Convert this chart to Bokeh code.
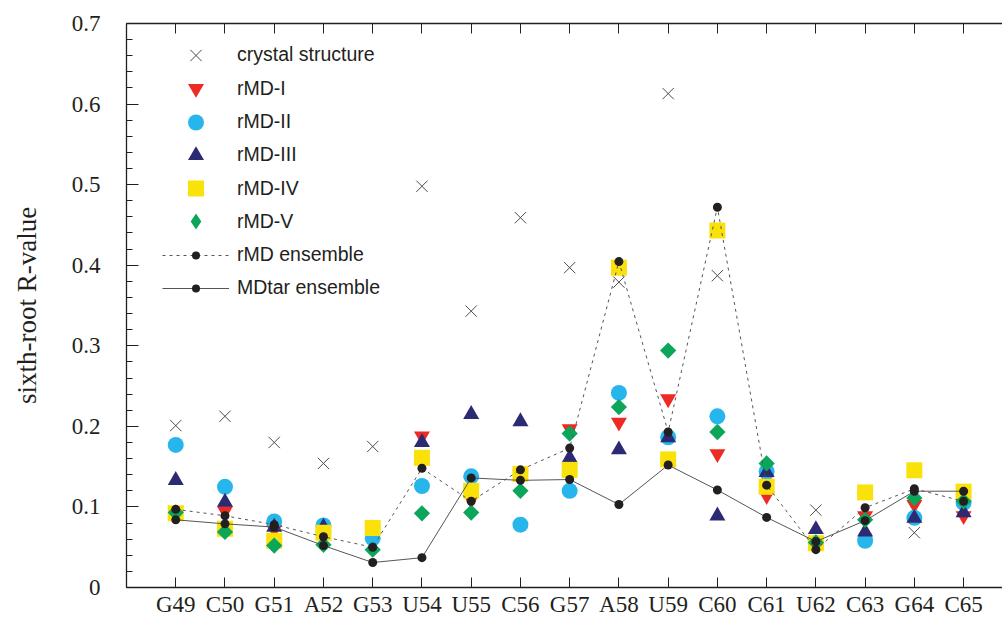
from bokeh.plotting import figure
from bokeh.models import Range1d, LinearAxis, FixedTicker, Legend, LegendItem
from bokeh.embed import file_html
from bokeh.resources import INLINE

residues = ["G49", "C50", "G51", "A52", "G53", "U54", "U55", "C56", "G57",
            "A58", "U59", "C60", "C61", "U62", "C63", "G64", "C65"]
crystal = [0.201, 0.2125, 0.180, 0.154, 0.175, 0.498, 0.343, 0.459, 0.397,
           0.379, 0.613, 0.387, 0.130, 0.096, 0.060, 0.068, 0.095]
rmd_1 = [0.095, 0.095, 0.072, 0.070, 0.070, 0.188, 0.109, 0.140, 0.197,
         0.205, 0.234, 0.166, 0.114, 0.058, 0.089, 0.103, 0.089]
rmd_2 = [0.177, 0.125, 0.082, 0.077, 0.061, 0.126, 0.138, 0.078, 0.120,
         0.2415, 0.1865, 0.2125, 0.144, 0.055, 0.058, 0.0865, 0.105]
rmd_3 = [0.133, 0.106, 0.075, 0.075, 0.073, 0.180, 0.215, 0.206, 0.161,
         0.171, 0.186, 0.089, 0.143, 0.072, 0.069, 0.086, 0.093]
rmd_4 = [0.092, 0.073, 0.058, 0.068, 0.074, 0.161, 0.120, 0.141, 0.146,
         0.397, 0.159, 0.443, 0.125, 0.055, 0.118, 0.1455, 0.119]
rmd_5 = [0.093, 0.069, 0.052, 0.053, 0.047, 0.092, 0.093, 0.120, 0.191,
         0.224, 0.294, 0.193, 0.154, 0.056, 0.084, 0.111, 0.107]
rmd_ensemble = [0.097, 0.089, 0.078, 0.063, 0.050, 0.148, 0.107, 0.146, 0.173,
                0.4045, 0.193, 0.472, 0.127, 0.047, 0.099, 0.1225, 0.107]
mdtar_ensemble = [0.084, 0.079, 0.075, 0.052, 0.031, 0.037, 0.136, 0.133, 0.134,
                  0.103, 0.152, 0.121, 0.087, 0.057, 0.083, 0.1195, 0.1195]
y_ticks = [0, 0.1, 0.2, 0.3, 0.4, 0.5, 0.6, 0.7]
y_tick_labels = ["0", "0.1", "0.2", "0.3", "0.4", "0.5", "0.6", "0.7"]
legend_labels = ["crystal structure", "rMD-I", "rMD-II", "rMD-III", "rMD-IV",
                 "rMD-V", "rMD ensemble", "MDtar ensemble"]

x = list(range(len(residues)))
INK = "#231f20"
SERIF = "Liberation Serif"
SANS = "Liberation Sans"
GREEN = "#0ca65a"
FRAME_TOP, FRAME_BOTTOM = 23, 587

p = figure(width=1002, height=619, output_backend="svg", toolbar_location=None,
           x_range=Range1d(-1, 16.79), y_range=Range1d(0, 0.7),
           x_axis_type=None, y_axis_type=None,
           min_border_left=126, min_border_right=0, min_border_top=FRAME_TOP,
           min_border_bottom=619 - FRAME_BOTTOM)
p.outline_line_color = None
p.xgrid.visible = False
p.ygrid.visible = False
p.background_fill_color = "white"
p.border_fill_color = "white"

minor = [round(i * 0.02, 2) for i in range(36)]
yt = FixedTicker(ticks=y_ticks, minor_ticks=minor)
xt = FixedTicker(ticks=x, minor_ticks=[])

left = LinearAxis(ticker=yt, axis_label="sixth-root R-value")
left.major_label_overrides = {t: l for t, l in zip(y_ticks, y_tick_labels)}
left.major_tick_in = 12
left.major_tick_out = 0
left.minor_tick_in = 6
left.minor_tick_out = 0
left.major_label_standoff = 26
left.major_label_text_font = SERIF
left.major_label_text_font_size = "23px"
left.major_label_text_color = INK
left.axis_label_text_font = SERIF
left.axis_label_text_font_size = "27px"
left.axis_label_text_font_style = "normal"
left.axis_label_text_color = INK
left.axis_label_standoff = 27
left.axis_line_color = INK
left.major_tick_line_color = INK
left.minor_tick_line_color = INK
left.axis_line_width = 1.3
p.add_layout(left, "left")

bottom = LinearAxis(ticker=xt)
bottom.major_label_overrides = {i: r for i, r in zip(x, residues)}
bottom.major_tick_in = 10
bottom.major_tick_out = 0
bottom.minor_tick_line_color = None
bottom.major_label_standoff = 4
bottom.major_label_text_font = SERIF
bottom.major_label_text_font_size = "23px"
bottom.major_label_text_color = INK
bottom.axis_line_color = INK
bottom.axis_line_width = 1.3
bottom.major_tick_line_color = INK
p.add_layout(bottom, "below")

top = LinearAxis(ticker=xt)
top.major_label_overrides = {i: "" for i in x}
top.major_tick_in = 10
top.major_tick_out = 0
top.minor_tick_line_color = None
top.major_label_standoff = 0
top.axis_line_color = INK
top.axis_line_width = 1.3
top.major_tick_line_color = INK
p.add_layout(top, "above")

r_x = p.scatter(x, crystal, marker="x", size=16, line_color="#4d4d4d", line_width=1)
r_1 = p.scatter(x, rmd_1, marker="inverted_triangle", size=16, fill_color="#ee2a24", line_color=None)
r_2 = p.scatter(x, rmd_2, marker="circle", size=16, fill_color="#27b6ec", line_color=None)
r_3 = p.scatter(x, rmd_3, marker="triangle", size=16, fill_color="#2b2a72", line_color=None)
r_4 = p.scatter(x, rmd_4, marker="square", size=16, fill_color="#fbe10a", line_color=None)
r_5 = p.scatter(x, rmd_5, marker="square", angle=0.785398, size=11.5, fill_color=GREEN, line_color=None)
# hidden stand-in used only for the legend key (legend glyphs ignore angle)
r_5_key = p.scatter(x, rmd_5, marker="diamond", size=16, fill_color=GREEN, line_color=None)
r_5_key.visible = False

l_e = p.line(x, rmd_ensemble, line_color="#555555", line_width=1, line_dash="3 4")
d_e = p.scatter(x, rmd_ensemble, marker="circle", size=9, fill_color=INK, line_color=None)
l_m = p.line(x, mdtar_ensemble, line_color="#555555", line_width=1)
d_m = p.scatter(x, mdtar_ensemble, marker="circle", size=9, fill_color=INK, line_color=None)

legend_renderers = [[r_x], [r_1], [r_2], [r_3], [r_4], [r_5_key], [l_e, d_e], [l_m, d_m]]
row_centers = [54.5, 88, 121.5, 154.5, 188, 221, 254.5, 287.5]
for label, rends, yc in zip(legend_labels, legend_renderers, row_centers):
    gh = 20 if len(rends) == 2 else 40
    h = max(gh, 33)
    leg = Legend(items=[LegendItem(label=label, renderers=rends)],
                 location=(36, FRAME_BOTTOM - (yc + h / 2)),
                 padding=0, margin=0, spacing=0, glyph_width=67, glyph_height=gh,
                 label_height=33, label_standoff=8, label_text_font=SANS,
                 label_text_font_size="19.5px", label_text_color=INK,
                 border_line_color=None, background_fill_alpha=0,
                 inactive_fill_alpha=0)
    p.add_layout(leg)

open("out.html", "w").write(file_html(p, INLINE))
